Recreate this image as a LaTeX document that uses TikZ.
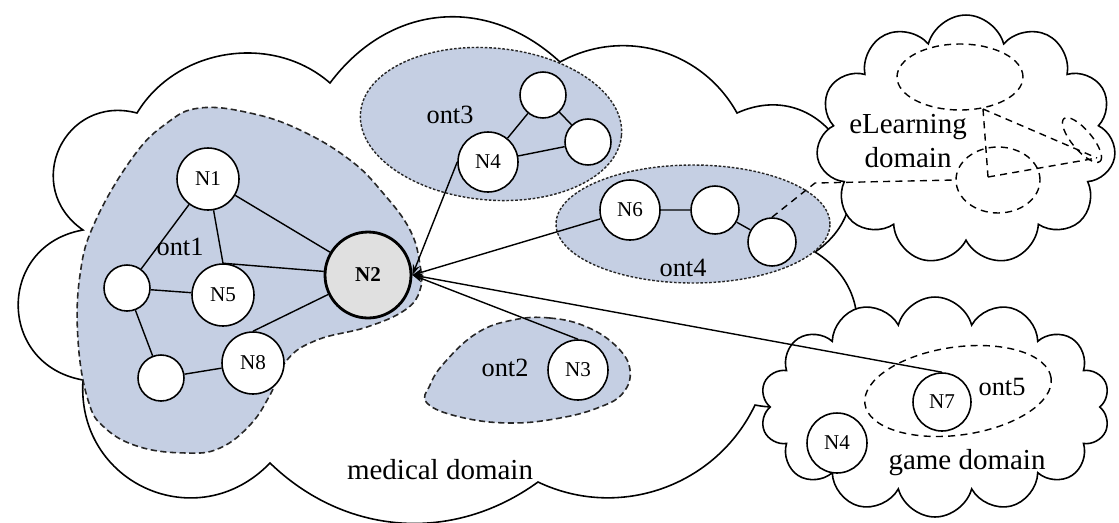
\documentclass[tikz,border=0pt]{standalone}
\usepackage{fontspec}
\setmainfont{Liberation Serif}
\usetikzlibrary{arrows.meta, positioning, shapes.geometric, shapes.symbols}
\definecolor{ontblue}{RGB}{197,207,227}
\definecolor{hubgray}{RGB}{224,224,224}
\tikzset{
    concept/.style={circle, draw, fill=white, line width=0.9pt, inner sep=0pt, minimum size=1.2cm, font=\fontsize{12}{12}\selectfont},
    leaf/.style={concept, minimum size=0.92cm},
    ontarea/.style={fill=ontblue, draw=black!85, line width=0.9pt, dash pattern=on 3.5pt off 2pt},
    ontoval/.style={ellipse, fill=ontblue, draw=black!85, line width=0.8pt, dash pattern=on 1.5pt off 1pt, inner sep=0pt},
    ghost/.style={ellipse, draw, line width=0.8pt, dash pattern=on 4pt off 3pt, inner sep=0pt},
    realm/.style={cloud, cloud ignores aspect, draw, fill=white, line width=0.9pt, inner sep=0pt},
    lbl/.style={font=\fontsize{15}{15}\selectfont},
    dlbl/.style={font=\fontsize{16.5}{19}\selectfont, align=center},
}
\begin{document}
\begin{tikzpicture}[x=0.02cm, y=-0.02cm, >={Stealth[length=6pt,width=4pt]}, line width=0.8pt]
    \useasboundingbox (0,0) rectangle (1119,522);

    % medical domain
    \draw[fill=white, line width=0.9pt] (83,380) to[bend left=80, looseness=1.5] (83,230)
      to[bend left=80, looseness=1.5] (137,113)
      to[bend left=50, looseness=1.0] (330,83)
      to[bend left=48, looseness=1.1] (560,62)
      to[bend left=45, looseness=1.0] (737,113)
      to[bend left=85, looseness=1.6] (815,252)
      to[bend left=80, looseness=1.5] (755,405)
      to[bend left=45] (538,482)
      to[bend left=40] (270,463)
      to[bend left=70, looseness=1.3] cycle;

    \node[realm, cloud puffs=11, minimum width=6.0cm, minimum height=5.0cm] (elearn) at (966,140) {};
    \node[realm, cloud puffs=14, minimum width=7.0cm, minimum height=4.4cm] (game) at (935,407) {};

    % ontologies
    \draw[ontarea] plot[smooth cycle, tension=0.7] coordinates {(200,108) (250,113) (300,130) (350,160) (383,193) (410,230) (420,265) (420,290) (405,310) (367,327) (317,340) (287,360) (270,395) (250,425) (220,448) (187,453) (140,447) (105,428) (88,400) (78,340) (80,275) (95,222) (133,157) (167,123)};
    \draw[ontarea] plot[smooth cycle, tension=0.7] coordinates {(513,320) (550,318) (587,327) (617,347) (630,370) (623,393) (600,407) (560,418) (510,423) (460,417) (427,403) (430,385) (445,362) (477,333)};
    \node[ontoval, minimum width=5.24cm, minimum height=3.04cm, rotate=-5] (ont3) at (491,124) {};
    \node[ontoval, minimum width=5.48cm, minimum height=2.36cm] (ont4) at (693,224) {};

    \node[ghost, minimum width=3.76cm, minimum height=1.76cm, rotate=8] (ont5) at (958,391) {};
    \node[ghost, minimum width=2.52cm, minimum height=1.32cm] (el1) at (960,77) {};
    \node[ghost, minimum width=1.68cm, minimum height=1.32cm] (el2) at (998,180) {};
    \node[ghost, minimum width=1.12cm, minimum height=0.4cm, rotate=-50] (el3) at (1082,140) {};

    \node[concept, minimum size=1.24cm] (n1) at (208,179) {N1};
    \node[leaf] (o1a) at (127,288) {};
    \node[concept, minimum size=1.24cm] (n5) at (223,295) {N5};
    \node[leaf] (o1b) at (161,378) {};
    \node[concept, minimum size=1.24cm] (n8) at (253,363) {N8};
    \node[concept, minimum size=1.72cm, fill=hubgray, line width=1.6pt, font=\fontsize{12}{12}\selectfont\bfseries] (n2) at (368,275) {N2};
    \node[concept] (n4) at (488,162) {N4};
    \node[leaf] (o3a) at (543,95) {};
    \node[leaf] (o3b) at (588,142) {};
    \node[concept] (n6) at (630,210) {N6};
    \node[leaf, minimum size=0.96cm] (o4a) at (715,210) {};
    \node[leaf, minimum size=0.96cm] (o4b) at (772,242) {};
    \node[concept] (n3) at (578,370) {N3};
    \node[concept, minimum size=1.16cm] (n7) at (942,402) {N7};
    \node[concept] (g4) at (837,443) {N4};

    \node[lbl] (l1) at (180,247) {ont1};
    \node[lbl] (l2) at (505,368) {ont2};
    \node[lbl] (l3) at (450,115) {ont3};
    \node[lbl] (l4) at (683,268) {ont4};
    \node[lbl] (l5) at (1002,387) {ont5};
    \node[dlbl] (med) at (440,470) {medical domain};
    \node[dlbl] (eld) at (908,141) {eLearning\\domain};
    \node[dlbl] (gd) at (967,463) {game domain};

    \coordinate (e1) at (983,109);
    \coordinate (e2) at (988,177);
    \coordinate (e3) at (1097,158);
    \coordinate (e4) at (815,183);

    \draw (n1) -- (o1a) (n1) -- (n5.north) (n1) -- (n2) (o1a) -- (n5) (o1a) -- (o1b)
      (o1b) -- (n8) (n8.north) -- (n2) (n5.north) -- (n2);
    \draw (n4) -- (o3a) (n4) -- (o3b) (o3a) -- (o3b);
    \draw (n6) -- (o4a) (o4a) -- (o4b);
    \draw[dash pattern=on 4pt off 3pt] (o4b.north) -- (e4) -- (el2.west)
      (e1) -- (e2) (e1) -- (e3) (e2) -- (e3);

    \draw[->] (n4.west) -- (n2.east);
    \draw[->] (n6) -- (n2.east);
    \draw[->] (n3.north) -- (n2.east);
    \draw[->] (n7.north) -- (n2.east);
\end{tikzpicture}
\end{document}
